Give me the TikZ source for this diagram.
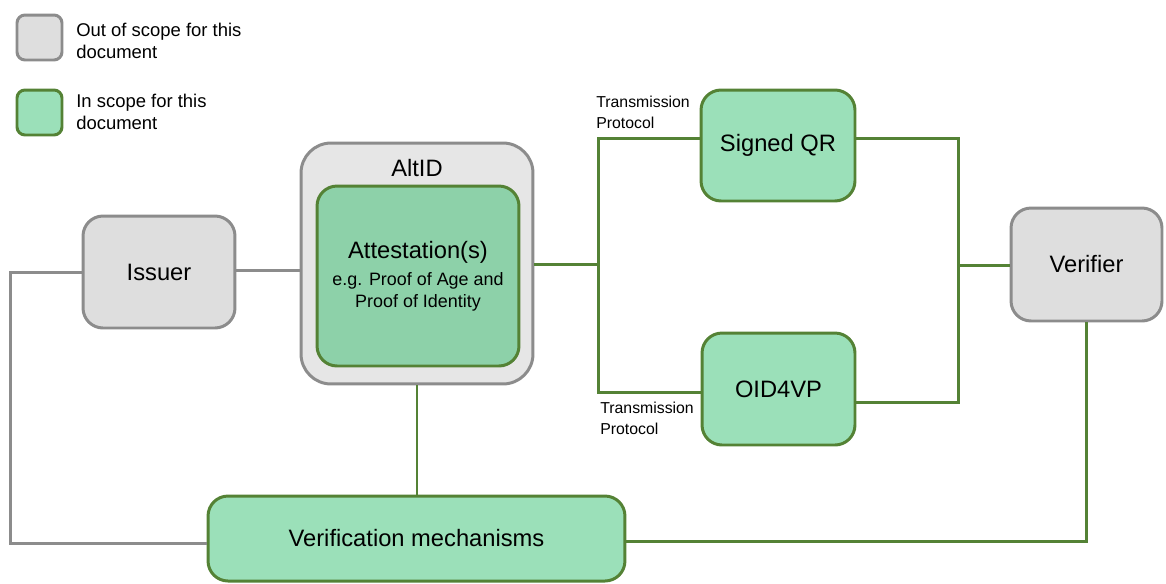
\documentclass[tikz,border=0pt]{standalone}
\usepackage{fontspec}
\setmainfont{Liberation Sans}
\definecolor{boxgreen}{HTML}{9BE0B9}
\definecolor{innergreen}{HTML}{8DD1A9}
\definecolor{edgegreen}{HTML}{548235}
\definecolor{boxgrey}{HTML}{DEDEDE}
\definecolor{outergrey}{HTML}{E6E6E6}
\definecolor{edgegrey}{HTML}{8C8C8C}
\tikzset{
  inbox/.style={draw=edgegreen, fill=boxgreen, line width=1.7pt, rounded corners=0.4cm, align=center, font=\fontsize{13.5}{16}\selectfont},
  outbox/.style={draw=edgegrey, fill=boxgrey, line width=1.7pt, rounded corners=0.4cm, align=center, font=\fontsize{13.5}{16}\selectfont},
  greenline/.style={draw=edgegreen, line width=1.7pt},
  greyline/.style={draw=edgegrey, line width=1.7pt},
  note/.style={align=left, inner sep=0pt, font=\fontsize{9}{12}\selectfont}
}
\begin{document}
\begin{tikzpicture}[x=0.02cm, y=-0.02cm]
	\useasboundingbox (0,0) rectangle (1166,583);
	% legend
	\node[outbox, rounded corners=0.16cm, minimum size=0.9cm] (keyout) at (39.5,37.5) {};
	\node[inbox, rounded corners=0.16cm, minimum size=0.9cm] (keyin) at (39.5,112.5) {};
	\node[note, anchor=west, font=\fontsize{10.5}{12.5}\selectfont] (keyouttext) at (76,41) {Out of scope for this\\document};
	\node[note, anchor=west, font=\fontsize{10.5}{12.5}\selectfont] (keyintext) at (76,112) {In scope for this\\document};
	% boxes
	\node[outbox, minimum width=3.04cm, minimum height=2.24cm] (issuer) at (159,272) {Issuer};
	\node[outbox, fill=outergrey, rounded corners=0.6cm, minimum width=4.64cm, minimum height=4.82cm] (altid) at (417,263.5) {};
	\node[font=\fontsize{13.5}{16}\selectfont] (altidtext) at (417,168) {AltID};
	\node[inbox, fill=innergreen, minimum width=4.04cm, minimum height=3.6cm, font=\fontsize{10.2}{12.5}\selectfont] (attest) at (418,276)
		{{\fontsize{13.5}{16}\selectfont Attestation(s)}\\[3pt]e.g. Proof of Age and\\Proof of Identity};
	\node[inbox, minimum width=3.08cm, minimum height=2.22cm] (sqr) at (778,145.5) {Signed QR};
	\node[inbox, minimum width=3.06cm, minimum height=2.24cm] (oid) at (778.5,389) {OID4VP};
	\node[outbox, minimum width=3.02cm, minimum height=2.26cm] (verifier) at (1086.5,264.5) {Verifier};
	\node[inbox, minimum width=8.34cm, minimum height=1.7cm] (mech) at (416.5,538.5) {Verification mechanisms};
	% labels
	\node[note, anchor=north west] (tpone) at (596,96) {Transmission\\Protocol};
	\node[note, anchor=north west] (tptwo) at (600,402) {Transmission\\Protocol};
	% connectors
	\coordinate (jleft) at (598,264);
	\coordinate (jright) at (958,265);
	\draw[greyline] (issuer.west) -- ++(-71,0) |- ([yshift=-0.09cm]mech.west);
	\draw[greyline] ([yshift=0.04cm]issuer.east) -- ([yshift=0.04cm]issuer.east -| altid.west);
	\draw[greenline] (altid.east |- jleft) -- (jleft);
	\draw[greenline] ([yshift=0.15cm]sqr.west) -| (jleft) |- ([yshift=-0.06cm]oid.west);
	\draw[greenline] ([yshift=0.15cm]sqr.east) -| (jright) |- ([yshift=-0.26cm]oid.east);
	\draw[greenline] (jright) -- (verifier.west |- jright);
	\draw[greenline] (altid.south) -- (altid.south |- mech.north);
	\draw[greenline] ([yshift=-0.05cm]mech.east) -| (verifier.south);
\end{tikzpicture}
\end{document}
